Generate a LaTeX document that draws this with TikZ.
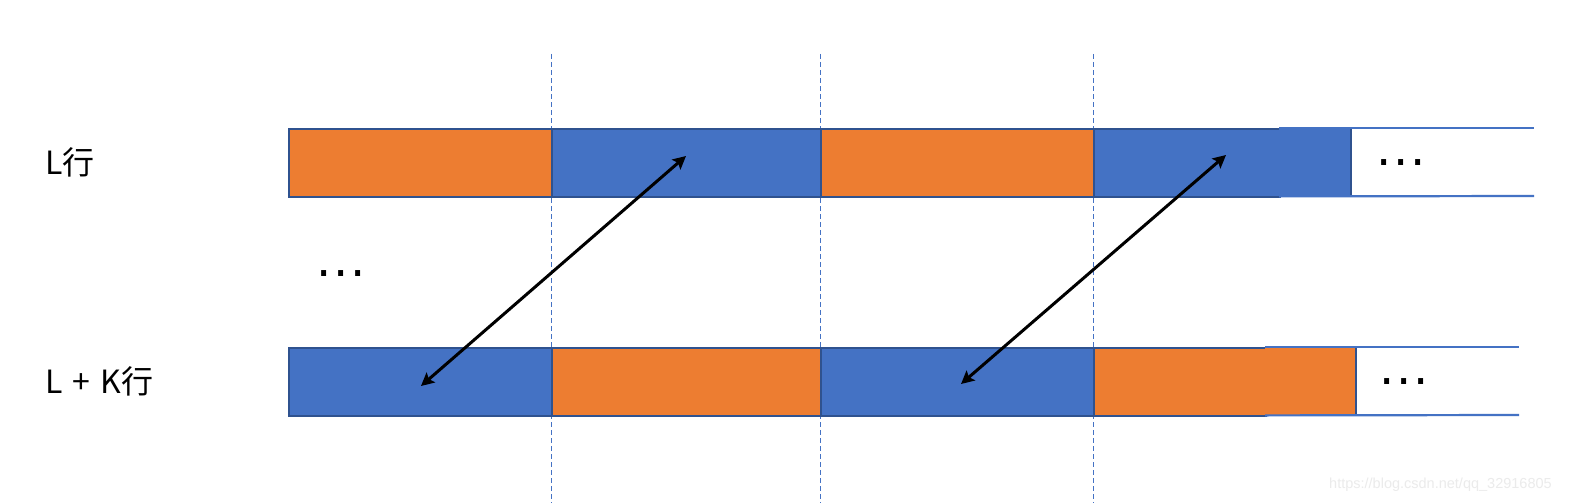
\documentclass[tikz,border=0pt]{standalone}
\usepackage{fontspec}
\setmainfont{Noto Sans CJK SC}
\newfontfamily\dvfont{DejaVu Sans}
\newfontfamily\wmfont{Liberation Sans}
\usetikzlibrary{arrows.meta}
\definecolor{orng}{HTML}{ED7D31}
\definecolor{blu}{HTML}{4472C4}
\definecolor{edgeblue}{HTML}{2F528F}
\definecolor{wmgray}{HTML}{EBEBEB}
\newcommand\threedots{.\kern2pt.\kern2pt.}
\begin{document}
\begin{tikzpicture}[x=1pt,y=-1pt,
 cell/.style={rectangle, draw=edgeblue, line width=2pt, inner sep=0pt, minimum height=68pt, anchor=north west},
 ocell/.style={cell, fill=orng},
 bcell/.style={cell, fill=blu},
 extbox/.style={rectangle, inner sep=0pt, minimum height=70pt, anchor=north west},
 rail/.style={draw=blu, line width=2.2pt},
 endline/.style={draw=edgeblue, line width=1.8pt},
 guide/.style={draw=blu, line width=0.9pt, dash pattern=on 5pt off 3pt},
 link/.style={draw=black, line width=3pt, {Stealth[length=13pt,width=13pt,inset=2.5pt]}-{Stealth[length=13pt,width=13pt,inset=2.5pt]}},
 lbl/.style={font=\fontsize{32}{36}\selectfont, inner sep=0pt, anchor=base west},
 dotsnode/.style={font=\dvfont\fontsize{48}{52}\selectfont, inner sep=0pt, anchor=base},
 wm/.style={font=\wmfont\fontsize{14.5}{16}\selectfont, text=wmgray, inner sep=0pt, anchor=base west}
]
\useasboundingbox (0,0) rectangle (1581,503);
\fill[white] (0,0) rectangle (1581,503);

% guides
\coordinate (g1t) at (551,54); \coordinate (g1b) at (551,503);
\coordinate (g2t) at (820,54); \coordinate (g2b) at (820,503);
\coordinate (g3t) at (1093,54); \coordinate (g3b) at (1093,503);
\draw[guide] (g1t) -- (g1b);
\draw[guide] (g2t) -- (g2b);
\draw[guide] (g3t) -- (g3b);

% labels
\node[lbl] (lrow) at (45,174) {L行};
\node[lbl] (lkrow) at (45,393) {L\kern3pt{} + \kern3pt{}K行};
\node[dotsnode] (mdots) at (341,276) {\threedots};

% top row
\node[ocell, minimum width=263pt] (t1) at (288,128) {};
\node[bcell, minimum width=269pt] (t2) at (551,128) {};
\node[ocell, minimum width=273pt] (t3) at (820,128) {};
\node[bcell, minimum width=186pt] (t4) at (1093,128) {};
\node[extbox, fill=blu, minimum width=72pt] (t5) at (1279,127) {};
\draw[rail] (t5.north west) ++(0,1) -- (1534,128);
\draw[rail] (t5.south west) ++(0,-1) -- (1534,196);
\draw[endline] (1351,129) -- (1351,195);
\node[dotsnode] (tdots) at (1401,165) {\threedots};

% bottom row
\node[bcell, minimum width=263pt] (b1) at (288,347) {};
\node[ocell, minimum width=269pt] (b2) at (551,347) {};
\node[bcell, minimum width=273pt] (b3) at (820,347) {};
\node[ocell, minimum width=172pt] (b4) at (1093,347) {};
\node[extbox, fill=orng, minimum width=91pt] (b5) at (1265,346) {};
\draw[rail] (b5.north west) ++(0,1) -- (1519,347);
\draw[rail] (b5.south west) ++(0,-1) -- (1519,415);
\draw[endline] (1356,348) -- (1356,414);
\node[dotsnode] (bdots) at (1404,384) {\threedots};

% arrows
\coordinate (a1s) at (421,386);
\coordinate (a1e) at (686,156);
\coordinate (a2s) at (961,384);
\coordinate (a2e) at (1226,155);
\draw[link] (a1s) -- (a1e);
\draw[link] (a2s) -- (a2e);

% watermark
\node[wm] (mark) at (1329,488) {https://blog.csdn.net/qq\_32916805};
\end{tikzpicture}
\end{document}
